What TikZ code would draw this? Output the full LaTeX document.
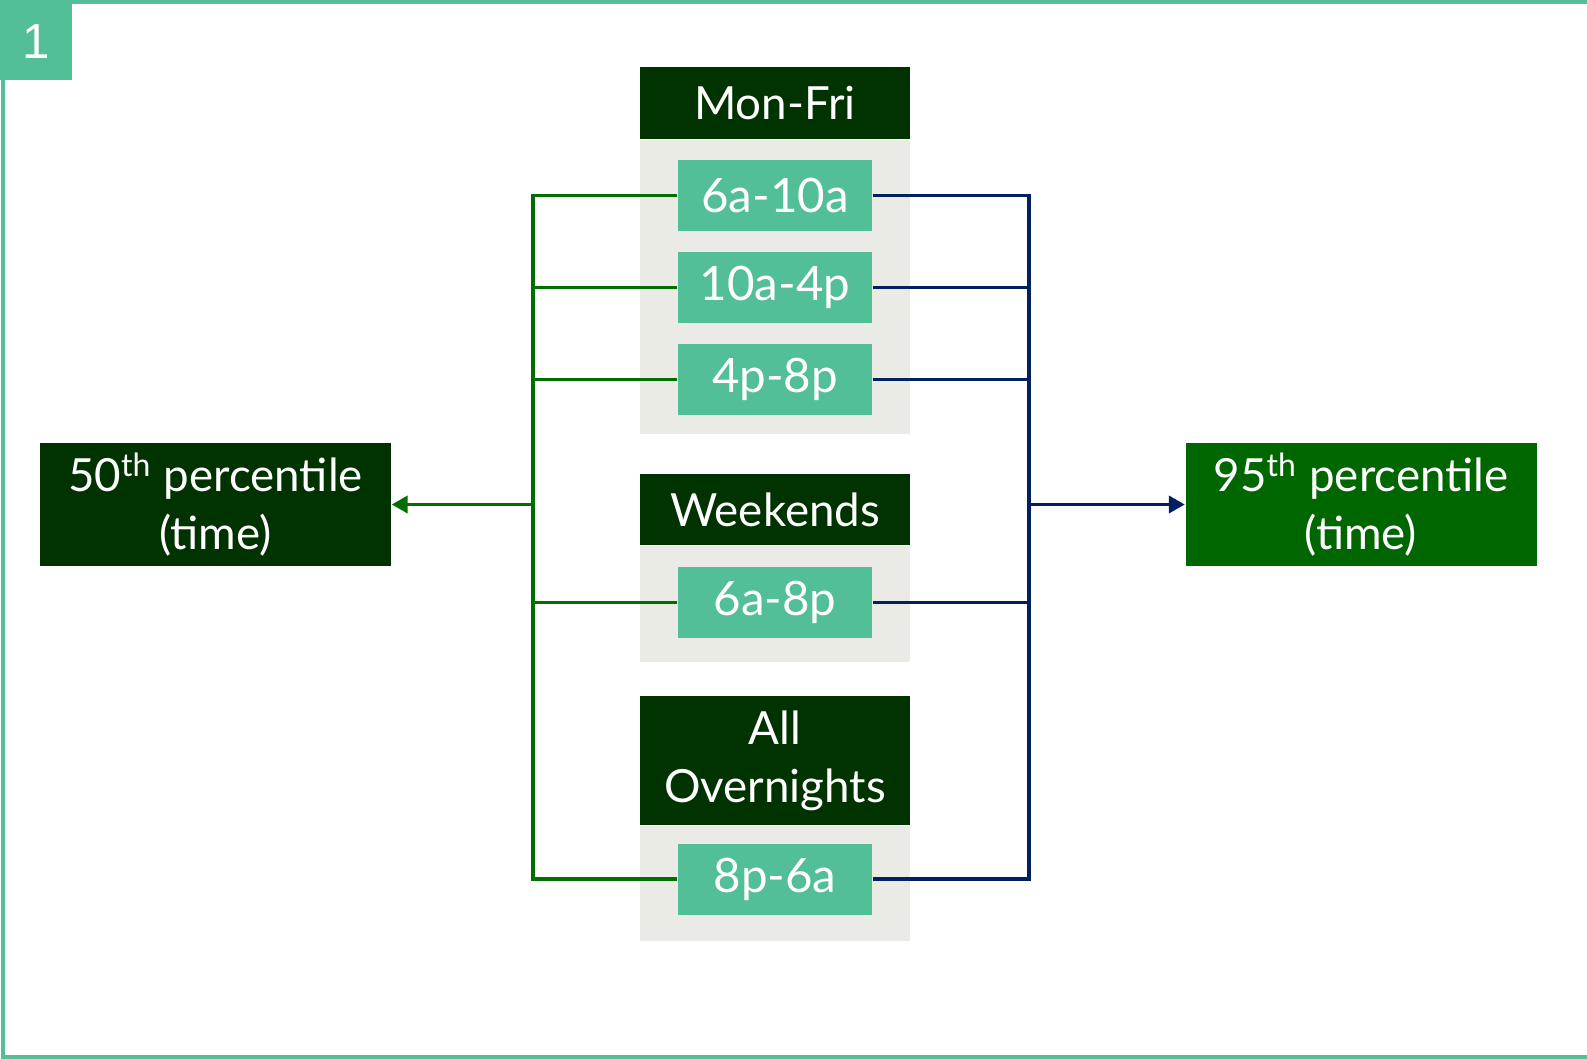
\documentclass[tikz,border=0pt]{standalone}
\usepackage{xcolor}
\usepackage{fontspec}
\setmainfont{Lato}
\newfontfamily\numfont{Liberation Sans}
\usepackage{tikz}
\usetikzlibrary{positioning,calc,arrows.meta}

\definecolor{frameteal}{RGB}{82,191,150}
\definecolor{hdgreen}{RGB}{0,51,0}
\definecolor{boxgreen}{RGB}{0,102,0}
\definecolor{panelgrey}{RGB}{235,235,230}
\definecolor{linegreen}{RGB}{0,110,0}
\definecolor{lineblue}{RGB}{0,32,96}

\tikzset{
  header/.style={fill=hdgreen, text=white, minimum width=2.70cm, inner sep=0pt,
    align=center, font=\fontsize{13}{16.5}\selectfont},
  panel/.style={fill=panelgrey, minimum width=2.70cm, inner sep=0pt},
  slot/.style={fill=frameteal, text=white, minimum width=1.94cm, minimum height=0.71cm,
    inner sep=0pt, font=\fontsize{13.5}{16}\selectfont},
  result/.style={text=white, minimum width=3.51cm, minimum height=1.23cm, inner sep=0pt,
    align=center, font=\fontsize{13}{16.5}\selectfont},
  gline/.style={draw=linegreen, line width=1.1pt},
  bline/.style={draw=lineblue, line width=1.1pt},
}

\begin{document}
\begin{tikzpicture}
    \useasboundingbox (0,0) rectangle (15.87,-10.59);

    % frame and number tab
    \draw [frameteal, line width=0.9pt] (15.87,-0.02) -- (0.03,-0.02) -- (0.03,-10.57) -- (15.87,-10.57);
    \fill [frameteal] (0,0) rectangle (0.72,-0.80);
    \node [text=white, font=\numfont\fontsize{14}{16}\selectfont] (tab) at (0.36,-0.42) {1};

    % Mon-Fri group
    \node [header, minimum height=0.72cm] (monfri) at (7.75,-1.03) {Mon-Fri};
    \node [panel, minimum height=2.94cm, below=0pt of monfri] (pmonfri) {};
    % Weekends group
    \node [header, minimum height=0.71cm] (wkend) at (7.75,-5.095) {Weekends};
    \node [panel, minimum height=1.16cm, below=0pt of wkend] (pwkend) {};
    % Overnights group
    \node [header, minimum height=1.29cm] (night) at (7.75,-7.605) {All\\Overnights};
    \node [panel, minimum height=1.15cm, below=0pt of night] (pnight) {};

    % bus lines
    \coordinate (lbus) at (5.33,0);
    \coordinate (rbus) at (10.29,0);

    \node [slot] (s1) at (7.75,-1.955) {6a-10a};
    \node [slot] (s2) at (7.75,-2.875) {10a-4p};
    \node [slot] (s3) at (7.75,-3.795) {4p-8p};
    \node [slot] (s4) at (7.75,-6.025) {6a-8p};
    \node [slot] (s5) at (7.75,-8.79) {8p-6a};

    \node [result, fill=hdgreen] (p50) at (2.155,-5.045) {50\textsuperscript{th} percentile\\(time)};
    \node [result, fill=boxgreen] (p95) at (13.61,-5.045) {95\textsuperscript{th} percentile\\(time)};

    % left side
    \draw [gline] (s1.west) -- (s1.west -| lbus) -- (s5.west -| lbus) -- (s5.west);
    \foreach \s in {s2,s3,s4}
      \draw [gline] (\s.west) -- (\s.west -| lbus);
    \draw [gline, -{Triangle[length=0.16cm, width=0.17cm]}] (p50.east -| lbus) -- (p50.east);

    % right side
    \draw [bline] (s1.east) -- (s1.east -| rbus) -- (s5.east -| rbus) -- (s5.east);
    \foreach \s in {s2,s3,s4}
      \draw [bline] (\s.east) -- (\s.east -| rbus);
    \draw [bline, -{Triangle[length=0.16cm, width=0.17cm]}] (p95.west -| rbus) -- (p95.west);
\end{tikzpicture}
\end{document}
